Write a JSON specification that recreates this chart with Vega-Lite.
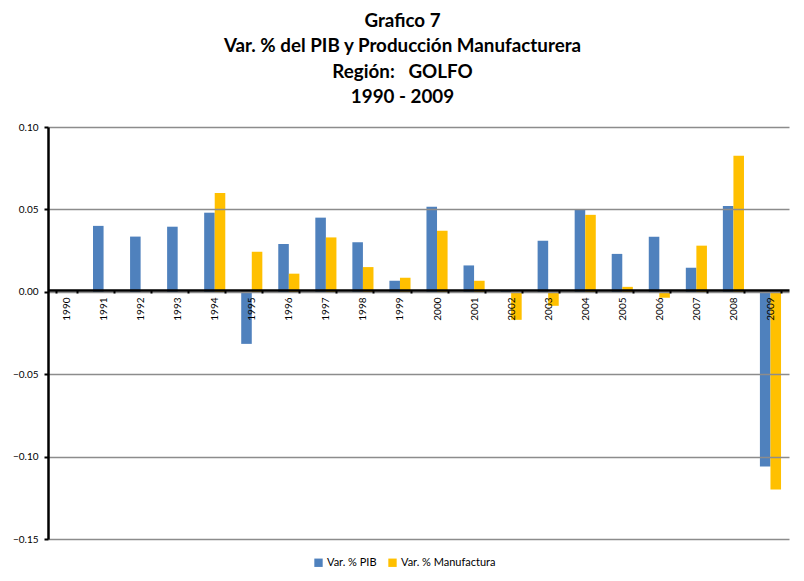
{
  "$schema": "https://vega.github.io/schema/vega-lite/v6.json",
  "width": 741,
  "height": 412,
  "autosize": {"type": "none"},
  "padding": {"left": 48, "top": 127, "right": 15, "bottom": 42},
  "background": "white",
  "title": {
    "text": ["Grafico 7", "Var. % del PIB y Producción Manufacturera", "Región:\u00a0\u00a0 GOLFO", "1990 - 2009"],
    "anchor": "middle",
    "frame": "group",
    "dx": -16,
    "offset": 15,
    "font": "Lato",
    "fontSize": 18.8,
    "fontWeight": "bold",
    "lineHeight": 25.5,
    "color": "black"
  },
  "data": {
    "values": [
      {"year": "1990", "series": "Var. % PIB", "value": 0},
      {"year": "1990", "series": "Var. % Manufactura", "value": 0},
      {"year": "1991", "series": "Var. % PIB", "value": 0.040},
      {"year": "1991", "series": "Var. % Manufactura", "value": 0},
      {"year": "1992", "series": "Var. % PIB", "value": 0.0335},
      {"year": "1992", "series": "Var. % Manufactura", "value": 0},
      {"year": "1993", "series": "Var. % PIB", "value": 0.0395},
      {"year": "1993", "series": "Var. % Manufactura", "value": 0},
      {"year": "1994", "series": "Var. % PIB", "value": 0.048},
      {"year": "1994", "series": "Var. % Manufactura", "value": 0.060},
      {"year": "1995", "series": "Var. % PIB", "value": -0.0316},
      {"year": "1995", "series": "Var. % Manufactura", "value": 0.0243},
      {"year": "1996", "series": "Var. % PIB", "value": 0.029},
      {"year": "1996", "series": "Var. % Manufactura", "value": 0.011},
      {"year": "1997", "series": "Var. % PIB", "value": 0.045},
      {"year": "1997", "series": "Var. % Manufactura", "value": 0.033},
      {"year": "1998", "series": "Var. % PIB", "value": 0.030},
      {"year": "1998", "series": "Var. % Manufactura", "value": 0.015},
      {"year": "1999", "series": "Var. % PIB", "value": 0.0067},
      {"year": "1999", "series": "Var. % Manufactura", "value": 0.0085},
      {"year": "2000", "series": "Var. % PIB", "value": 0.0516},
      {"year": "2000", "series": "Var. % Manufactura", "value": 0.037},
      {"year": "2001", "series": "Var. % PIB", "value": 0.016},
      {"year": "2001", "series": "Var. % Manufactura", "value": 0.0067},
      {"year": "2002", "series": "Var. % PIB", "value": 0.0005},
      {"year": "2002", "series": "Var. % Manufactura", "value": -0.017},
      {"year": "2003", "series": "Var. % PIB", "value": 0.031},
      {"year": "2003", "series": "Var. % Manufactura", "value": -0.0085},
      {"year": "2004", "series": "Var. % PIB", "value": 0.0498},
      {"year": "2004", "series": "Var. % Manufactura", "value": 0.0467},
      {"year": "2005", "series": "Var. % PIB", "value": 0.023},
      {"year": "2005", "series": "Var. % Manufactura", "value": 0.003},
      {"year": "2006", "series": "Var. % PIB", "value": 0.0334},
      {"year": "2006", "series": "Var. % Manufactura", "value": -0.0036},
      {"year": "2007", "series": "Var. % PIB", "value": 0.0146},
      {"year": "2007", "series": "Var. % Manufactura", "value": 0.028},
      {"year": "2008", "series": "Var. % PIB", "value": 0.052},
      {"year": "2008", "series": "Var. % Manufactura", "value": 0.0825},
      {"year": "2009", "series": "Var. % PIB", "value": -0.106},
      {"year": "2009", "series": "Var. % Manufactura", "value": -0.120}
    ]
  },
  "mark": {"type": "bar"},
  "encoding": {
    "x": {
      "field": "year",
      "type": "nominal",
      "sort": null,
      "scale": {"paddingInner": 0.43, "paddingOuter": 0.215},
      "axis": {
        "title": null,
        "orient": "bottom",
        "offset": -249,
        "labelAngle": -90,
        "labelAlign": "right",
        "labelBaseline": "middle",
        "labelFont": "Lato",
        "labelFontSize": 10,
        "labelColor": "black",
        "labelPadding": 4,
        "tickBand": "extent",
        "tickColor": "black",
        "tickWidth": 2,
        "tickSize": 3,
        "domainColor": "black",
        "domainWidth": 2.5,
        "grid": false,
        "zindex": 1
      }
    },
    "xOffset": {
      "field": "series",
      "type": "nominal",
      "sort": ["Var. % PIB", "Var. % Manufactura"],
      "scale": {"paddingInner": 0, "paddingOuter": 0}
    },
    "y": {
      "field": "value",
      "type": "quantitative",
      "scale": {"domain": [-0.15, 0.1], "nice": false, "zero": false},
      "axis": {
        "title": null,
        "values": [-0.15, -0.1, -0.05, 0, 0.05, 0.1],
        "format": ".2f",
        "labelFont": "Lato",
        "labelFontSize": 10,
        "labelColor": "black",
        "labelPadding": 6,
        "tickColor": "black",
        "tickWidth": 2,
        "tickSize": 4,
        "domainColor": "black",
        "domainWidth": 2.5,
        "grid": true,
        "gridColor": "#8c8c8c",
        "gridWidth": 1.5,
        "zindex": 1
      }
    },
    "color": {
      "field": "series",
      "type": "nominal",
      "scale": {"domain": ["Var. % PIB", "Var. % Manufactura"], "range": ["#4F81BD", "#FFC000"]},
      "legend": {
        "title": null,
        "orient": "none",
        "direction": "horizontal",
        "legendX": 265,
        "legendY": 430,
        "symbolType": "square",
        "symbolSize": 70,
        "symbolStrokeWidth": 0,
        "labelFont": "Lato",
        "labelFontSize": 11,
        "labelColor": "black",
        "columnPadding": 10,
        "labelOffset": 3
      }
    }
  },
  "config": {
    "view": {"stroke": null}
  }
}
